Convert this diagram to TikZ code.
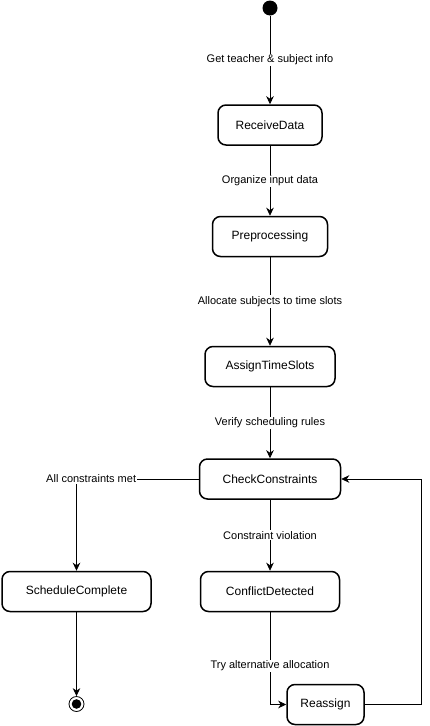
\documentclass[tikz,border=0pt]{standalone}
\usepackage{fontspec}
\setmainfont{Liberation Sans}
\usetikzlibrary{arrows.meta}

\begin{document}
\begin{tikzpicture}[x=1pt,y=-1pt,->,>={Stealth[length=8pt,width=7.5pt,inset=2.5pt]},
                    line width=0.8pt,
                    state/.style={draw,rounded corners=8pt,line width=1.5pt,minimum height=40pt,
                                  inner sep=0pt,font=\fontsize{12}{14}\selectfont},
                    lbl/.style={fill=white,inner sep=1pt,font=\fontsize{11}{13}\selectfont},
                    initdot/.style={circle,fill,minimum size=15pt,inner sep=0pt},
                    finaldot/.style={circle,draw,line width=0.8pt,minimum size=15pt,inner sep=0pt,
                                     path picture={\fill (path picture bounding box.center) circle (4.8pt);}}]
   \useasboundingbox (0,0) rectangle (430,726);
   \node[initdot] (start) at (270,8) {};
   \node[state,minimum width=104pt] (receive) at (270,125) {ReceiveData};
   \node[state,minimum width=115pt] (prep) at (270,236.5) {Preprocessing};
   \node[state,minimum width=130pt] (assign) at (270,366.5) {AssignTimeSlots};
   \node[state,minimum width=141pt] (check) at (270,479) {CheckConstraints};
   \node[state,minimum width=149pt] (done) at (76.5,591.5) {ScheduleComplete};
   \node[state,minimum width=139pt] (conflict) at (270,591.5) {ConflictDetected};
   \node[state,minimum width=77pt] (reassign) at (325.5,704.5) {Reassign};
   \node[finaldot] (final) at (76.5,704) {};
   \coordinate (back) at (421,479);
    \path[->]
    (start) edge node[lbl] {Get teacher \& subject info} (receive)
    (receive) edge node[lbl] {Organize input data} (prep)
    (prep) edge node[lbl] {Allocate subjects to time slots} (assign)
    (assign) edge node[lbl] {Verify scheduling rules} (check)
    (check) edge node[lbl] {Constraint violation} (conflict)
    (done) edge (final);
    \draw (check) -| node[lbl,pos=0.44] {All constraints met} (done);
    \draw (conflict) |- node[lbl,pos=0.29] {Try alternative allocation} (reassign);
    \draw (reassign) -| (back) -- (check);

\end{tikzpicture}
\end{document}
